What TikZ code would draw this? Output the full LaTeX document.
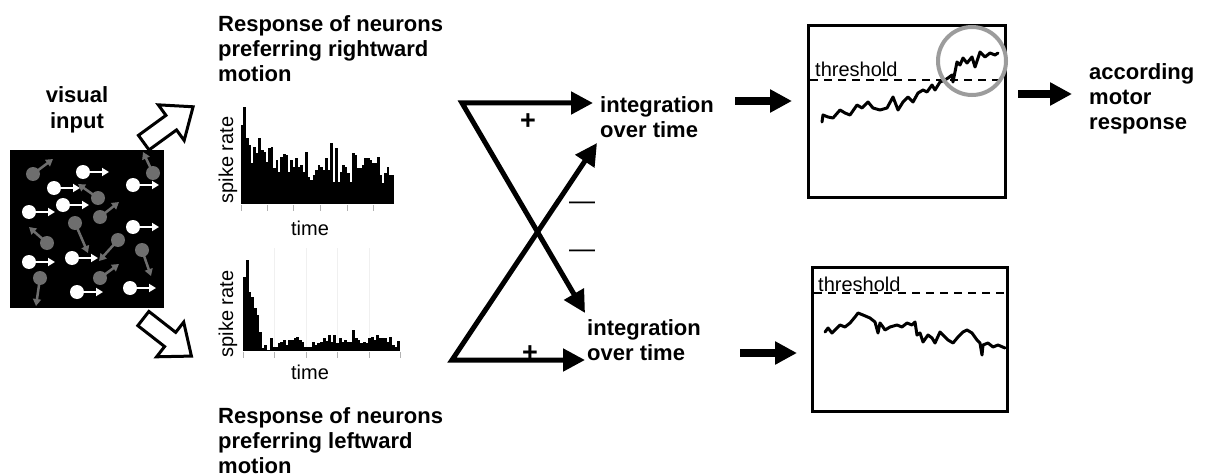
\documentclass[tikz,border=0pt]{standalone}
\usepackage{fontspec}
\setmainfont{Liberation Sans}
\usetikzlibrary{arrows.meta}
\definecolor{dotgrey}{HTML}{6E6E6E}
\definecolor{ringgrey}{HTML}{9C9C9C}
\begin{document}
\begin{tikzpicture}[x=1pt,y=-1pt,
  boldlbl/.style={font=\fontsize{22}{25}\selectfont\bfseries, inner sep=0pt},
  signlbl/.style={font=\fontsize{27}{27}\selectfont\bfseries, inner sep=0pt},
  plainlbl/.style={font=\fontsize{20}{23}\selectfont, inner sep=0pt},
  dashlbl/.style={font=\fontsize{26}{26}\selectfont, inner sep=0pt},
  crossarrow/.style={line width=5pt, line join=miter,
    {Triangle[length=22pt,width=22pt]}-{Triangle[length=22pt,width=22pt]}},
  fatarrow/.style={line width=8pt, -{Triangle[length=22pt,width=22pt]}},
  blockarrow/.style={draw=black, fill=white, line width=3pt, line join=miter},
  panelbox/.style={draw=black, line width=3pt},
  thresh/.style={line width=2pt, dash pattern=on 8pt off 6pt},
  trace/.style={line width=3pt, line join=round, line cap=round},
  ring/.style={draw=ringgrey, line width=4pt},
  whitevec/.style={draw=white, line width=2.5pt, -{Triangle[length=7pt,width=8pt]}},
  greyvec/.style={draw=dotgrey, line width=2.5pt, -{Triangle[length=7pt,width=8pt]}},
  axtick/.style={draw=gray!60, line width=1pt},
  gridln/.style={draw=gray!12, line width=1pt},
]
\useasboundingbox (0,0) rectangle (1212,476);

% ---------- random-dot stimulus ----------
\fill[black] (10,150) rectangle (164,308);
\foreach \cx/\cy/\ex/\ey in {33/174/53/159, 153/173/143/152, 98/198/78/184,
    100/217/119/202, 75/223/88/253, 47/243/29/227, 118/240/99/261,
    142/250/151/276, 40/278/36/306, 100/278/119/264}{
  \draw[greyvec] (\cx,\cy) -- (\ex,\ey);
  \fill[dotgrey] (\cx,\cy) circle[radius=7];
}
\foreach \cx/\cy in {83/172, 54/188, 63/205, 29/212, 133/185, 133/227,
    29/262, 72/258, 77/292, 130/288}{
  \draw[whitevec] (\cx,\cy) -- ({\cx+26},\cy);
  \fill[white] (\cx,\cy) circle[radius=7];
}
\node[boldlbl, anchor=base] (visin) at (77,103)
  {\begin{tabular}[t]{@{}c@{}}visual\\input\end{tabular}};

% hollow block arrows towards the two populations
\draw[blockarrow, shift={(168,125)}, rotate=36]
  (-30,-9) -- (4,-9) -- (4,-22) -- (31,0) -- (4,22) -- (4,9) -- (-30,9) -- cycle;
\draw[blockarrow, shift={(167,337)}, rotate=-38]
  (-30,-9) -- (4,-9) -- (4,-22) -- (31,0) -- (4,22) -- (4,9) -- (-30,9) -- cycle;

% ---------- population responses ----------
\node[boldlbl, anchor=base west] (respR) at (218,32)
  {\begin{tabular}[t]{@{}l@{}}Response of neurons\\preferring rightward\\motion\end{tabular}};
\node[boldlbl, anchor=base west] (respL) at (218,423)
  {\begin{tabular}[t]{@{}l@{}}Response of neurons\\preferring leftward\\motion\end{tabular}};

% rightward histogram
\foreach \h [count=\i from 0] in {90,35,130,150,205,155,175,130,165,170,200,160,
    155,220,195,230,185,178,180,230,195,215,190,215,210,230,170,245,255,240,
    225,210,215,225,190,225,145,260,160,260,230,210,215,235,260,175,180,220,
    220,210,190,190,195,205,205,185,240,265,235,215,240,240}{
  \fill[black] ({241+\i*2.468},204) rectangle ({241+(\i+1)*2.468+0.3},{95+\h/3});
}
\foreach \tx in {241,267,293,320,347,373}{
  \draw[axtick] (\tx,205) -- (\tx,211);
}
\node[plainlbl, rotate=90, anchor=base] (srR) at (233,160) {spike rate};
\node[plainlbl, anchor=base] (timeR) at (310,235) {time};

% leftward histogram
\foreach \tx in {274,306,337,369}{
  \draw[gridln] (\tx,248) -- (\tx,351);
}
\foreach \h [count=\i from 0] in {80,30,125,140,175,195,245,295,285,300,265,290,
    290,280,275,270,285,270,270,265,262,270,275,290,290,290,275,285,280,275,
    265,272,255,275,255,280,265,275,270,275,275,240,265,270,280,275,278,265,
    260,270,255,265,265,265,275,262,285,290,272}{
  \fill[black] ({243+\i*2.66},351) rectangle ({243+(\i+1)*2.66+0.3},{250+\h/3});
}
\foreach \tx in {243,274,306,337,369,400}{
  \draw[axtick] (\tx,352) -- (\tx,358);
}
\node[plainlbl, rotate=90, anchor=base] (srL) at (233,314) {spike rate};
\node[plainlbl, anchor=base] (timeL) at (310,379) {time};

% ---------- crossed excitatory / inhibitory pathways ----------
\coordinate (cornT) at (462,103);
\coordinate (cornB) at (452,360);
\coordinate (tipTT) at (593,103);
\coordinate (tipTB) at (585,313);
\coordinate (tipBB) at (585,360);
\coordinate (tipBT) at (597,143);
\draw[crossarrow] (tipTB) -- (cornT) -- (tipTT);
\draw[crossarrow] (tipBT) -- (cornB) -- (tipBB);
\node[signlbl] (plusT) at (528,122) {+};
\node[signlbl] (plusB) at (530,354) {+};
\node[dashlbl] (minT) at (582,206) {—};
\node[dashlbl] (minB) at (582,254) {—};

\node[boldlbl, anchor=base west] (intT) at (600,113)
  {\begin{tabular}[t]{@{}l@{}}integration\\over time\end{tabular}};
\node[boldlbl, anchor=base west] (intB) at (587,335)
  {\begin{tabular}[t]{@{}l@{}}integration\\over time\end{tabular}};

% ---------- accumulators ----------
\coordinate (aT0) at (735,101);
\coordinate (aT1) at (792,101);
\coordinate (aB0) at (740,353);
\coordinate (aB1) at (797,353);
\draw[fatarrow] (aT0) -- (aT1);
\draw[fatarrow] (aB0) -- (aB1);

% upper accumulator: crosses threshold
\draw[panelbox] (808,26) rectangle (1005,197);
\draw[thresh] (810,80) -- (1003,80);
\node[plainlbl, anchor=base west] (thT) at (815,77) {threshold};
\draw[trace] plot coordinates {(822,122) (823,115) (828,117) (833,118) (840,110)
  (845,113) (850,115) (857,105) (862,108) (868,102) (873,108) (880,110)
  (887,108) (893,97) (898,110) (903,102) (908,97) (913,102) (918,93) (923,90)
  (927,92) (932,85) (935,90) (940,82) (945,80) (948,78) (952,75) (953,82)
  (957,62) (960,65) (963,58) (967,63) (972,57) (975,67) (980,52) (985,57)
  (990,53) (995,55) (998,53)};
\draw[ring] (972,61) circle[radius=34];

% lower accumulator: stays below threshold
\draw[panelbox] (812,267) rectangle (1007,411);
\draw[thresh] (814,293) -- (1004,293);
\node[plainlbl, anchor=base west] (thB) at (818,291) {threshold};
\draw[trace] plot coordinates {(825,332) (828,328) (832,333) (835,330) (840,325)
  (845,327) (850,323) (855,317) (858,313) (863,315) (870,318) (875,322)
  (878,333) (880,323) (883,327) (885,330) (890,327) (897,325) (902,327)
  (907,323) (912,325) (915,322) (917,335) (920,333) (923,342) (928,335)
  (932,338) (935,343) (940,332) (943,335) (948,340) (953,343) (958,337)
  (963,332) (967,330) (972,333) (977,340) (980,343) (982,355) (983,345)
  (988,343) (993,347) (998,345) (1005,348)};

% ---------- motor output ----------
\coordinate (aM0) at (1018,94);
\coordinate (aM1) at (1072,94);
\draw[fatarrow] (aM0) -- (aM1);
\node[boldlbl, anchor=base west] (motor) at (1089,80)
  {\begin{tabular}[t]{@{}l@{}}according\\motor\\response\end{tabular}};
\end{tikzpicture}
\end{document}
